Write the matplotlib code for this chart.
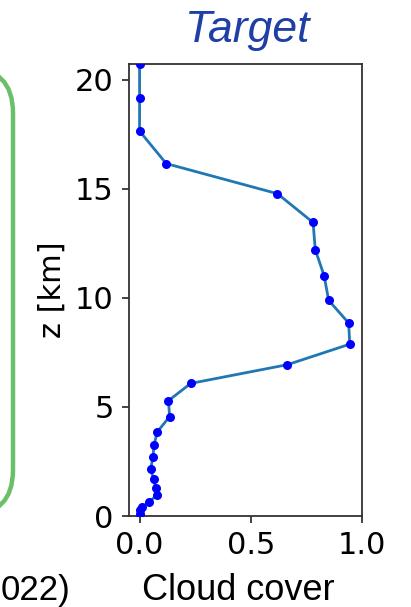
import matplotlib
matplotlib.use("Agg")
import matplotlib.pyplot as plt
from matplotlib.patches import FancyBboxPatch
from matplotlib.transforms import IdentityTransform

# cloud cover profile
cloud_cover = [0.0, 0.0, 0.0, 0.12, 0.62, 0.78, 0.79, 0.83, 0.85, 0.94,
               0.945, 0.665, 0.23, 0.13, 0.135, 0.08, 0.065, 0.06, 0.05,
               0.063, 0.072, 0.077, 0.044, 0.012, 0.004, 0.0]
height_km = [20.75, 19.19, 17.65, 16.16, 14.78, 13.46, 12.21, 11.01, 9.89,
             8.85, 7.88, 6.94, 6.08, 5.29, 4.56, 3.86, 3.26, 2.69, 2.17,
             1.69, 1.29, 0.95, 0.66, 0.41, 0.26, 0.11]
xticks = [0.0, 0.5, 1.0]
yticks = [0, 5, 10, 15, 20]

plt.rcParams["font.family"] = "DejaVu Sans"

W, H = 411, 607
fig = plt.figure(figsize=(W / 100, H / 100), dpi=100)
ax = fig.add_axes([129 / W, 91 / H, 233 / W, 452.5 / H])

ax.plot(cloud_cover, height_km, color="#1f77b4", lw=2.0, zorder=2)
ax.plot(cloud_cover, height_km, "o", color="blue", ms=6.5, mec="none", zorder=3)

ax.set_xlim(-0.0475, 1.0)
ax.set_ylim(0, 20.75)
ax.set_xticks(xticks)
ax.set_xticklabels([f"{t:.1f}" for t in xticks])
ax.set_yticks(yticks)
ax.tick_params(labelsize=22, length=5, width=1.2, pad=6, color="#222222")
for sp in ax.spines.values():
    sp.set_linewidth(1.3)
    sp.set_color("#333333")
ax.set_ylabel("z [km]", fontsize=22, labelpad=6)

# slide text around the panel
fig.text(247 / W, 1 - 42 / H, "Target", fontsize=32, style="italic",
         color="#1f3fa6", family="Liberation Sans", ha="center",
         va="baseline")
fig.text(238 / W, 1 - 600 / H, "Cloud cover", fontsize=26,
         family="Liberation Sans", ha="center", va="baseline")
fig.text(1 / W, 1 - 600 / H, "022)", fontsize=25,
         family="Liberation Sans", ha="left", va="baseline")

box = FancyBboxPatch((-250, H - 515), 263, 447,
                     boxstyle="round,pad=0,rounding_size=45",
                     transform=IdentityTransform(), fill=False,
                     ec="#6abf69", lw=3.2)
fig.patches.append(box)

fig.savefig("out.png", dpi=100)
